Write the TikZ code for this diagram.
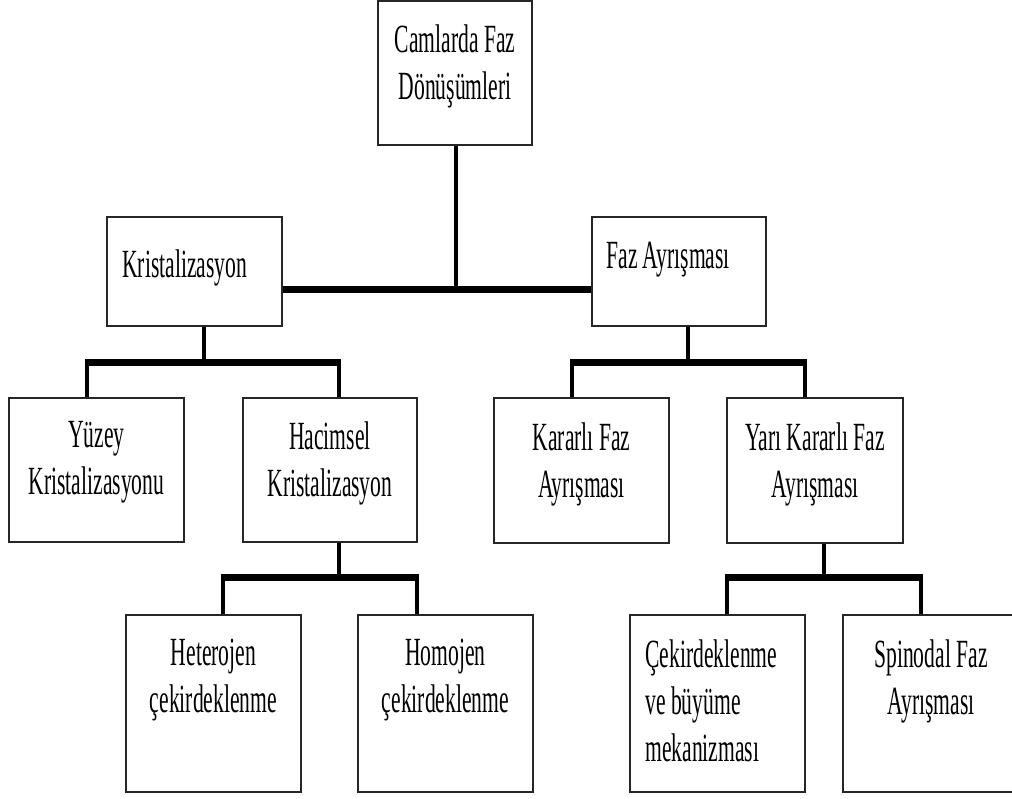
\documentclass[tikz,border=0pt]{standalone}
\usepackage{fontspec}
\setmainfont{Liberation Serif}[FakeStretch=0.54]
\usetikzlibrary{positioning}
\tikzset{
  box/.style={draw=black!85, line width=1pt, minimum width=87.5pt, inner sep=0pt},
  lbl/.style={inner sep=0pt, align=center, font=\fontsize{20}{23.5}\selectfont},
  stem/.style={line width=2pt},
  bar/.style={line width=3.5pt, shorten <=-1pt, shorten >=-1pt},
}
\begin{document}
\begin{tikzpicture}[x=0.5pt, y=-0.5pt]
  \useasboundingbox (0,0) rectangle (1012,798);
  % boxes, centres given in pixels
  \node[box, minimum width=77pt, minimum height=72pt] (cam) at (455,73) {};
  \node[box, minimum height=54.5pt] (kri) at (194.5,271.5) {};
  \node[box, minimum width=87pt, minimum height=54.5pt] (faz) at (679,271.5) {};
  \node[box, minimum height=72pt] (yuz) at (96.5,470) {};
  \node[box, minimum width=87pt, minimum height=72pt] (hac) at (330,470) {};
  \node[box, minimum height=72.5pt] (kar) at (581.5,470.5) {};
  \node[box, minimum width=88pt, minimum height=72.5pt] (yar) at (815,470.5) {};
  \node[box, minimum height=88.5pt] (het) at (213.5,703.5) {};
  \node[box, minimum height=88.5pt] (hom) at (445.5,703.5) {};
  \node[box, minimum height=88.5pt] (cek) at (717.5,703.5) {};
  \node[box, minimum width=88pt, minimum height=88.5pt] (spi) at (931,703.5) {};
  % texts
  \node[lbl, below=12pt of cam.north] (camt) {Camlarda Faz\\Dönüşümleri};
  \node[lbl, below right=16.5pt and 8pt of kri.north west] (krit) {Kristalizasyon};
  \node[lbl, below right=13pt and 7.5pt of faz.north west] (fazt) {Faz Ayrışması};
  \node[lbl, below=12pt of yuz.north] (yuzt) {Yüzey\\Kristalizasyonu};
  \node[lbl, below=12pt of hac.north] (hact) {Hacimsel\\Kristalizasyon};
  \node[lbl, below=12.5pt of kar.north] (kart) {Kararlı Faz\\Ayrışması};
  \node[lbl, below=12.5pt of yar.north] (yart) {Yarı Kararlı Faz\\Ayrışması};
  \node[lbl, below=12.5pt of het.north] (hett) {Heterojen\\çekirdeklenme};
  \node[lbl, below=12.5pt of hom.north] (homt) {Homojen\\çekirdeklenme};
  \node[lbl, align=left, below right=12.5pt and 8pt of cek.north west] (cekt) {Çekirdeklenme\\ve büyüme\\mekanizması};
  \node[lbl, below=12.5pt of spi.north] (spit) {Spinodal Faz\\Ayrışması};
  % connectors
  \coordinate (j1) at (456,289);
  \draw[stem] (cam.south -| j1) -- (j1);
  \draw[bar, shorten <=0pt, shorten >=0pt] (kri.east |- j1) -- (faz.west |- j1);
  \coordinate (j2) at (204,362);
  \coordinate (j2a) at (87,362);
  \coordinate (j2b) at (339,362);
  \draw[stem] (kri.south -| j2) -- (j2);
  \draw[bar] (j2a) -- (j2b);
  \draw[stem] (j2a) -- (j2a |- yuz.north);
  \draw[stem] (j2b) -- (j2b |- hac.north);
  \coordinate (j3) at (688,362);
  \coordinate (j3a) at (572,362);
  \coordinate (j3b) at (805,362);
  \draw[stem] (faz.south -| j3) -- (j3);
  \draw[bar] (j3a) -- (j3b);
  \draw[stem] (j3a) -- (j3a |- kar.north);
  \draw[stem] (j3b) -- (j3b |- yar.north);
  \coordinate (j4) at (339,577);
  \coordinate (j4a) at (223,577);
  \coordinate (j4b) at (417,577);
  \draw[stem] (hac.south -| j4) -- (j4);
  \draw[bar] (j4a) -- (j4b);
  \draw[stem] (j4a) -- (j4a |- het.north);
  \draw[stem] (j4b) -- (j4b |- hom.north);
  \coordinate (j5) at (824,577);
  \coordinate (j5a) at (727,577);
  \coordinate (j5b) at (921,577);
  \draw[stem] (yar.south -| j5) -- (j5);
  \draw[bar] (j5a) -- (j5b);
  \draw[stem] (j5a) -- (j5a |- cek.north);
  \draw[stem] (j5b) -- (j5b |- spi.north);
\end{tikzpicture}
\end{document}
